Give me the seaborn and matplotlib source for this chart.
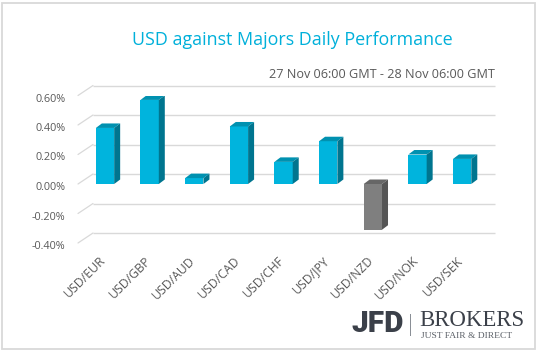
import matplotlib
matplotlib.use("Agg")
import matplotlib.pyplot as plt
import matplotlib.transforms as mtransforms
from matplotlib.patches import Polygon, Rectangle
import seaborn as sns
import pandas as pd

pairs = ["USD/EUR", "USD/GBP", "USD/AUD", "USD/CAD", "USD/CHF",
         "USD/JPY", "USD/NZD", "USD/NOK", "USD/SEK"]
values = [0.38, 0.57, 0.04, 0.39, 0.15, 0.29, -0.31, 0.20, 0.17]
yticks = [-0.4, -0.2, 0.0, 0.2, 0.4, 0.6]
ytick_labels = ["-0.40%", "-0.20%", "0.00%", "0.20%", "0.40%", "0.60%"]
title = "USD against Majors Daily Performance"
subtitle = "27 Nov 06:00 GMT - 28 Nov 06:00 GMT"

pos_front, pos_top, pos_side = "#00B4DD", "#0091B0", "#00758F"
neg_front, neg_top, neg_side = "#7F7F7F", "#666666", "#555555"

sns.set_theme(style="white")
plt.rcParams["font.family"] = ["Open Sans", "DejaVu Sans"]

W, H, DPI = 538, 351, 100
fig = plt.figure(figsize=(W / DPI, H / DPI), dpi=DPI)
ax_l, ax_r, ax_t, ax_b = 78, 480, 95.5, 243
ax = fig.add_axes([ax_l / W, 1 - ax_b / H, (ax_r - ax_l) / W, (ax_b - ax_t) / H])

df = pd.DataFrame({"pair": pairs, "value": values})
df["sign"] = ["neg" if v < 0 else "pos" for v in values]
sns.barplot(data=df, x="pair", y="value", hue="sign",
            palette={"pos": pos_front, "neg": neg_front},
            width=0.41, saturation=1, legend=False, dodge=False,
            ax=ax, zorder=3, linewidth=0)

xmin, xmax = -0.605, 8.40
ymin, ymax = -0.4, 0.6
ax.set_xlim(xmin, xmax)
ax.set_ylim(ymin, ymax)

px_x = (ax_r - ax_l) / (xmax - xmin)
px_y = (ax_b - ax_t) / (ymax - ymin)

# 3D faces on bars
bdx, bdy = 6 / px_x, 4.5 / px_y
for p in ax.patches:
    x0 = p.get_x()
    x1 = x0 + p.get_width()
    y0 = p.get_y()
    y1 = y0 + p.get_height()
    lo, hi = min(y0, y1), max(y0, y1)
    neg = p.get_height() < 0
    top_c = neg_top if neg else pos_top
    side_c = neg_side if neg else pos_side
    ax.add_patch(Polygon([(x0, hi), (x1, hi), (x1 + bdx, hi + bdy), (x0 + bdx, hi + bdy)],
                         closed=True, facecolor=top_c, edgecolor="none", zorder=3))
    ax.add_patch(Polygon([(x1, lo), (x1 + bdx, lo + bdy), (x1 + bdx, hi + bdy), (x1, hi)],
                         closed=True, facecolor=side_c, edgecolor="none", zorder=3))

# back-wall gridlines and floor slants
gdx, gdy = 15, 10
blend = mtransforms.blended_transform_factory(ax.transAxes, ax.transData)
back = mtransforms.offset_copy(blend, fig=fig, x=gdx, y=gdy, units="dots")
for v in yticks:
    ax.plot([0, 1], [v, v], transform=back, color="#D9D9D9", lw=1.0,
            zorder=1, clip_on=False, solid_capstyle="butt")
    ax.plot([0, gdx / (ax_r - ax_l)], [v, v + gdy / px_y], transform=blend,
            color="#D9D9D9", lw=0.9, zorder=1, clip_on=False)

ax.set_yticks(yticks)
ax.set_yticklabels(ytick_labels)
ax.tick_params(axis="y", length=0, pad=9, labelsize=7.8, labelcolor="#595959")
ax.tick_params(axis="x", length=0, pad=4, labelsize=8.8, labelcolor="#595959")
for lbl in ax.get_xticklabels():
    lbl.set_rotation(45)
    lbl.set_ha("right")
    lbl.set_va("center")
    lbl.set_rotation_mode("anchor")
    lbl.set_transform(lbl.get_transform() + mtransforms.ScaledTranslation(-1 / DPI, -10 / DPI, fig.dpi_scale_trans))
for lbl in ax.get_yticklabels():
    lbl.set_transform(lbl.get_transform() + mtransforms.ScaledTranslation(0, -2 / DPI, fig.dpi_scale_trans))
ax.set_xlabel("")
ax.set_ylabel("")
for s in ax.spines.values():
    s.set_visible(False)
ax.patch.set_alpha(0)

# titles
fig.text(292 / W, 1 - 40 / H, title, ha="center", va="center",
         fontsize=12.9, color="#00B0DA")
fig.text(495 / W, 1 - 74 / H, subtitle, ha="right", va="center",
         fontsize=9.1, color="#595959")

# logo
fig.text(351 / W, 1 - 324 / H, "JFD", ha="left", va="center", fontsize=21.5,
         fontweight="heavy", color="#3B4049", family=["Roboto", "DejaVu Sans"])
fig.add_artist(Rectangle((410 / W, 1 - 336 / H), 1.4 / W, 22 / H,
                         transform=fig.transFigure, facecolor="#8A8F96", edgecolor="none"))
fig.text(419 / W, 1 - 321 / H, "BROKERS", ha="left", va="center", fontsize=16.4,
         color="#3B4049", family=["Liberation Serif", "DejaVu Serif"])
fig.text(421 / W, 1 - 336 / H, "JUST FAIR & DIRECT", ha="left", va="center", fontsize=6.8,
         color="#5A5F66", family=["Liberation Serif", "DejaVu Serif"])

# border
fig.add_artist(Rectangle((2 / W, 2 / H), 533 / W, 346 / H, transform=fig.transFigure,
                         facecolor="none", edgecolor="#D9D9D9", lw=1.3))

fig.savefig("out.png", dpi=DPI)
